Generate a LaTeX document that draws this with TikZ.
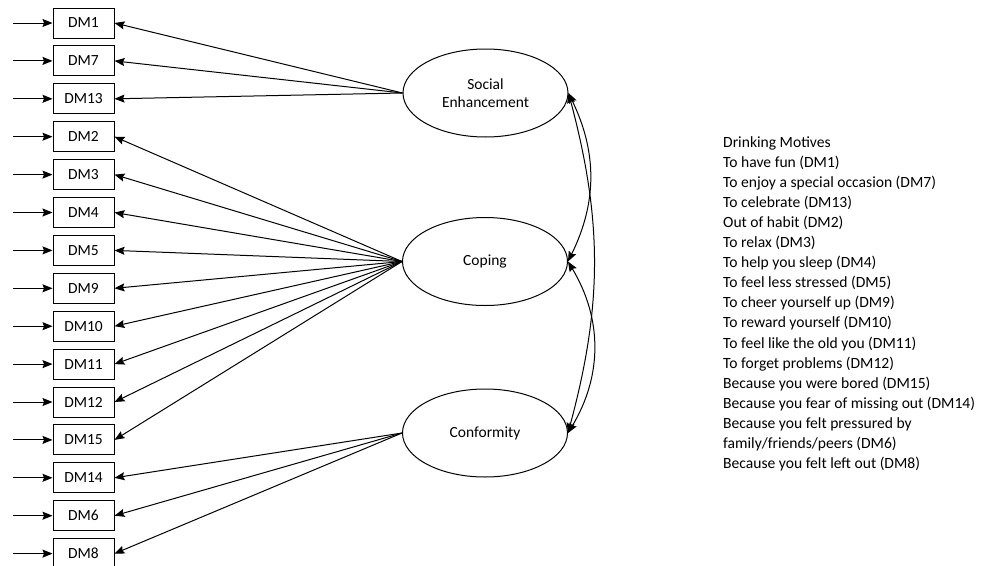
\documentclass[tikz,border=0pt]{standalone}
\usepackage{fontspec}
\setmainfont{Carlito}
\usepackage{tikz}
\usetikzlibrary{arrows.meta,positioning,shapes.geometric}

\begin{document}
\begin{tikzpicture}[x=1pt, y=-1pt,
item/.style={rectangle, draw, line width=1pt, minimum width=61pt, minimum height=30pt, inner sep=0pt, font=\fontsize{15.5}{17}\selectfont},
factor/.style={ellipse, draw, line width=1pt, minimum width=165pt, minimum height=88pt, inner sep=0pt, align=center, font=\fontsize{15.5}{18.5}\selectfont},
arrow/.style={-{Stealth[length=10pt, width=8pt, inset=1.5pt]}, line width=1pt},
cov/.style={{Stealth[length=10pt, width=8pt, inset=1.5pt]}-{Stealth[length=10pt, width=8pt, inset=1.5pt]}, line width=1pt}
]
\useasboundingbox (0,0) rectangle (988,565);

% Observed items with error arrows
\foreach \name [count=\i from 0] in {1,7,13,2,3,4,5,9,10,11,12,15,14,6,8} {
  \node[item] (dm\name) at (83.5, {23+37.9*\i}) {DM\name};
  \coordinate (err\name) at (13, {23+37.9*\i});
  \draw[arrow] (err\name) -- (dm\name);
}

% Latent factors
\node[factor] (social) at (485.5, 93) {Social\\Enhancement};
\node[factor] (coping) at (485, 261.5) {Coping};
\node[factor] (conform) at (485, 433) {Conformity};

% Loadings
\foreach \name in {1,7,13}
  \draw[arrow] (social.west) -- (dm\name.east);
\foreach \name in {2,3,4,5,9,10,11,12,15}
  \draw[arrow] (coping.west) -- (dm\name.east);
\foreach \name in {14,6,8}
  \draw[arrow] (conform.west) -- (dm\name.east);

% Covariances
\draw[cov] (social.east) to[bend left=26] (coping.east);
\draw[cov] (coping.east) to[bend left=31] (conform.east);
\draw[cov] (social.east) to[bend left=15] (conform.east);

% Legend
\node[anchor=north west, align=left, inner sep=0pt, font=\fontsize{15.6}{20.1}\selectfont] (motives) at (723, 136) {Drinking Motives\\
To have fun (DM1)\\
To enjoy a special occasion (DM7)\\
To celebrate (DM13)\\
Out of habit (DM2)\\
To relax (DM3)\\
To help you sleep (DM4)\\
To feel less stressed (DM5)\\
To cheer yourself up (DM9)\\
To reward yourself (DM10)\\
To feel like the old you (DM11)\\
To forget problems (DM12)\\
Because you were bored (DM15)\\
Because you fear of missing out (DM14)\\
Because you felt pressured by\\
family/friends/peers (DM6)\\
Because you felt left out (DM8)};

\end{tikzpicture}
\end{document}
